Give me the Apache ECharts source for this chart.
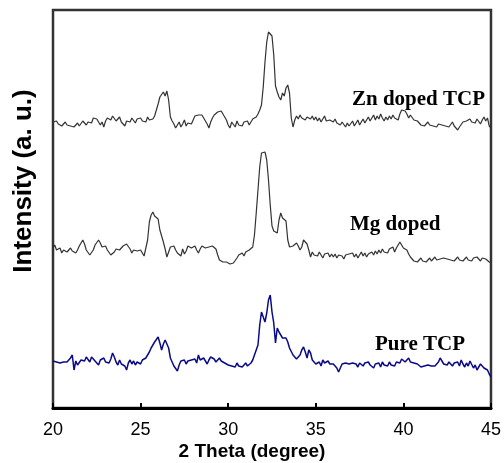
<!DOCTYPE html>
<html>
<head>
<meta charset="utf-8">
<script src="https://cdn.jsdelivr.net/npm/echarts@6/dist/echarts.min.js"></script>
<style>
html,body{margin:0;padding:0;background:#fff;}
#chart{width:504px;height:463px;}
</style>
</head>
<body>
<div id="chart"></div>
<script>
// 2θ sampling grid (degrees)
const thetaStart = 20;
const thetaStep = 0.1;
const xTicks = [20, 25, 30, 35, 40, 45];
const seriesNames = ['Zn doped TCP', 'Mg doped', 'Pure TCP'];
const xTitle = '2 Theta (degree)';
const yTitle = 'Intensity (a. u.)';

// Intensities (a.u., stacked offsets as in the figure), one value per 0.1°
const znDoped = [
286,285,287,284,285,282,284,286,283,285,
282,284,281,283,285,282,284,287,285,283,
286,288,285,290,292,289,287,283,286,281,
287,290,291,288,292,290,287,289,291,286,
284,282,287,289,286,290,288,285,289,287,
290,287,289,286,291,288,286,289,292,294,
304,311,313,316,312,317,308,291,287,284,
280,283,286,281,284,288,282,285,287,284,
288,292,290,293,291,293,290,288,284,280,
286,290,293,295,296,298,297,294,296,288,
283,280,286,284,281,287,283,285,282,286,
284,287,283,286,289,288,291,294,298,303,
321,346,366,376,378,372,353,322,316,311,
308,315,312,320,323,315,290,281,288,292,
289,293,290,292,288,291,293,289,292,288,
291,287,290,286,289,292,287,285,288,290,
286,289,285,287,283,286,284,281,285,282,
284,287,282,285,288,283,286,289,285,288,
291,287,290,293,288,292,289,294,290,287,
291,288,292,289,293,290,292,288,294,298,
296,297,294,290,293,291,288,286,287,285,
283,285,282,284,286,283,285,282,284,281,
284,286,283,285,282,284,281,283,286,282,
280,278,281,283,286,284,287,285,289,286,
288,285,289,287,284,288,291,287,290,282,
280];

const mgDoped = [
160,163,158,156,160,155,158,159,156,158,
160,157,159,155,158,162,165,168,164,158,
156,153,151,158,163,165,168,165,161,159,
162,158,156,153,151,156,159,161,158,160,
162,160,164,165,159,155,158,160,157,159,
158,156,152,151,168,186,193,196,192,194,
189,178,172,166,159,151,156,161,159,162,
158,155,157,152,159,154,157,162,164,160,
161,162,158,155,159,162,161,160,162,161,
160,162,161,159,153,148,146,146,145,146,
145,144,146,145,147,150,153,151,155,152,
156,154,158,157,161,173,195,218,241,255,
257,256,248,228,203,182,177,176,175,188,
195,190,188,187,168,161,161,162,163,165,
162,158,161,168,170,164,158,151,156,153,
155,152,156,153,150,154,152,155,151,154,
151,154,150,153,155,152,149,153,151,154,
152,155,151,154,150,153,156,152,155,151,
154,152,156,153,157,154,158,155,159,156,
158,155,159,157,161,156,160,163,166,164,
160,162,158,154,151,149,147,145,146,148,
150,147,149,146,148,150,147,149,151,148,
146,149,147,150,152,149,151,148,150,147,
149,151,148,150,147,149,151,148,150,147,
150,148,151,149,147,150,152,149,151,146,
145];

const pureTCP = [
47,48,46,47,45,47,46,48,46,47,
50,53,38,47,43,41,48,50,47,51,
49,46,51,50,47,45,43,48,46,50,
46,48,45,49,55,51,46,43,48,44,
46,42,38,45,48,44,47,43,46,48,
44,48,46,50,51,56,60,63,66,68,
71,65,58,64,68,70,60,50,46,42,
40,37,43,47,45,48,44,47,45,48,
46,49,45,53,48,46,50,47,44,48,
51,52,49,46,48,50,47,49,45,43,
43,45,42,44,41,45,42,44,41,43,
45,42,44,45,48,50,58,63,83,96,
97,86,95,108,113,96,85,65,80,76,
73,70,72,70,66,60,58,53,51,49,
48,53,58,61,56,50,58,55,48,46,
44,43,46,42,48,45,43,47,44,46,
44,42,40,36,40,44,42,45,43,44,
42,45,43,44,41,45,43,42,45,43,
46,43,44,40,44,42,45,41,46,43,
45,42,46,43,45,42,46,48,45,49,
50,46,48,50,46,48,45,43,44,42,
41,43,42,40,43,41,42,44,42,43,
46,50,47,44,45,43,46,44,42,45,
43,46,42,48,44,41,45,42,47,48,
40,43,38,41,44,45,40,42,38,34,
31];

function pairs(values) {
  return values.map((v, i) => [+(thetaStart + i * thetaStep).toFixed(2), v]);
}

const sans = '"Liberation Sans", Arial, sans-serif';
const serif = '"Liberation Serif", "Times New Roman", serif';

const chart = echarts.init(document.getElementById('chart'), null, {renderer: 'canvas'});
chart.setOption({
  animation: false,
  backgroundColor: '#fff',
  grid: {left: 53, right: 13, top: 10, bottom: 55, show: true, borderColor: '#333', borderWidth: 2.5, backgroundColor: 'transparent'},
  xAxis: {
    type: 'value', min: xTicks[0], max: xTicks[xTicks.length - 1], interval: 5,
    axisLine: {show: true, lineStyle: {color: '#000', width: 3}},
    axisTick: {show: true, inside: true, length: 5, lineStyle: {color: '#000', width: 2}},
    axisLabel: {fontSize: 18, color: '#000', fontFamily: sans, margin: 13},
    splitLine: {show: false}
  },
  yAxis: {
    type: 'value', min: 0, max: 398,
    axisLine: {show: false}, axisTick: {show: false}, axisLabel: {show: false}, splitLine: {show: false}
  },
  series: [
    {name: seriesNames[0], type: 'line', data: pairs(znDoped), showSymbol: false, lineStyle: {color: '#333', width: 1.2}, silent: true},
    {name: seriesNames[1], type: 'line', data: pairs(mgDoped), showSymbol: false, lineStyle: {color: '#333', width: 1.2}, silent: true},
    {name: seriesNames[2], type: 'line', data: pairs(pureTCP), showSymbol: false, lineStyle: {color: '#0b0b88', width: 1.5}, silent: true}
  ],
  graphic: [
    {type: 'text', left: 352, top: 89, style: {text: seriesNames[0], font: 'bold 21px ' + serif, fill: '#000'}},
    {type: 'text', left: 350, top: 214, style: {text: seriesNames[1], font: 'bold 21px ' + serif, fill: '#000'}},
    {type: 'text', left: 375, top: 334, style: {text: seriesNames[2], font: 'bold 21px ' + serif, fill: '#000'}},
    {type: 'text', x: 252, y: 452, style: {text: xTitle, font: 'bold 19px ' + sans, fill: '#000', align: 'center', verticalAlign: 'middle'}},
    {type: 'text', x: 24, y: 181, rotation: Math.PI / 2, style: {text: yTitle, font: 'bold 26px ' + sans, fill: '#000', align: 'center', verticalAlign: 'middle'}}
  ]
});
</script>
</body>
</html>
